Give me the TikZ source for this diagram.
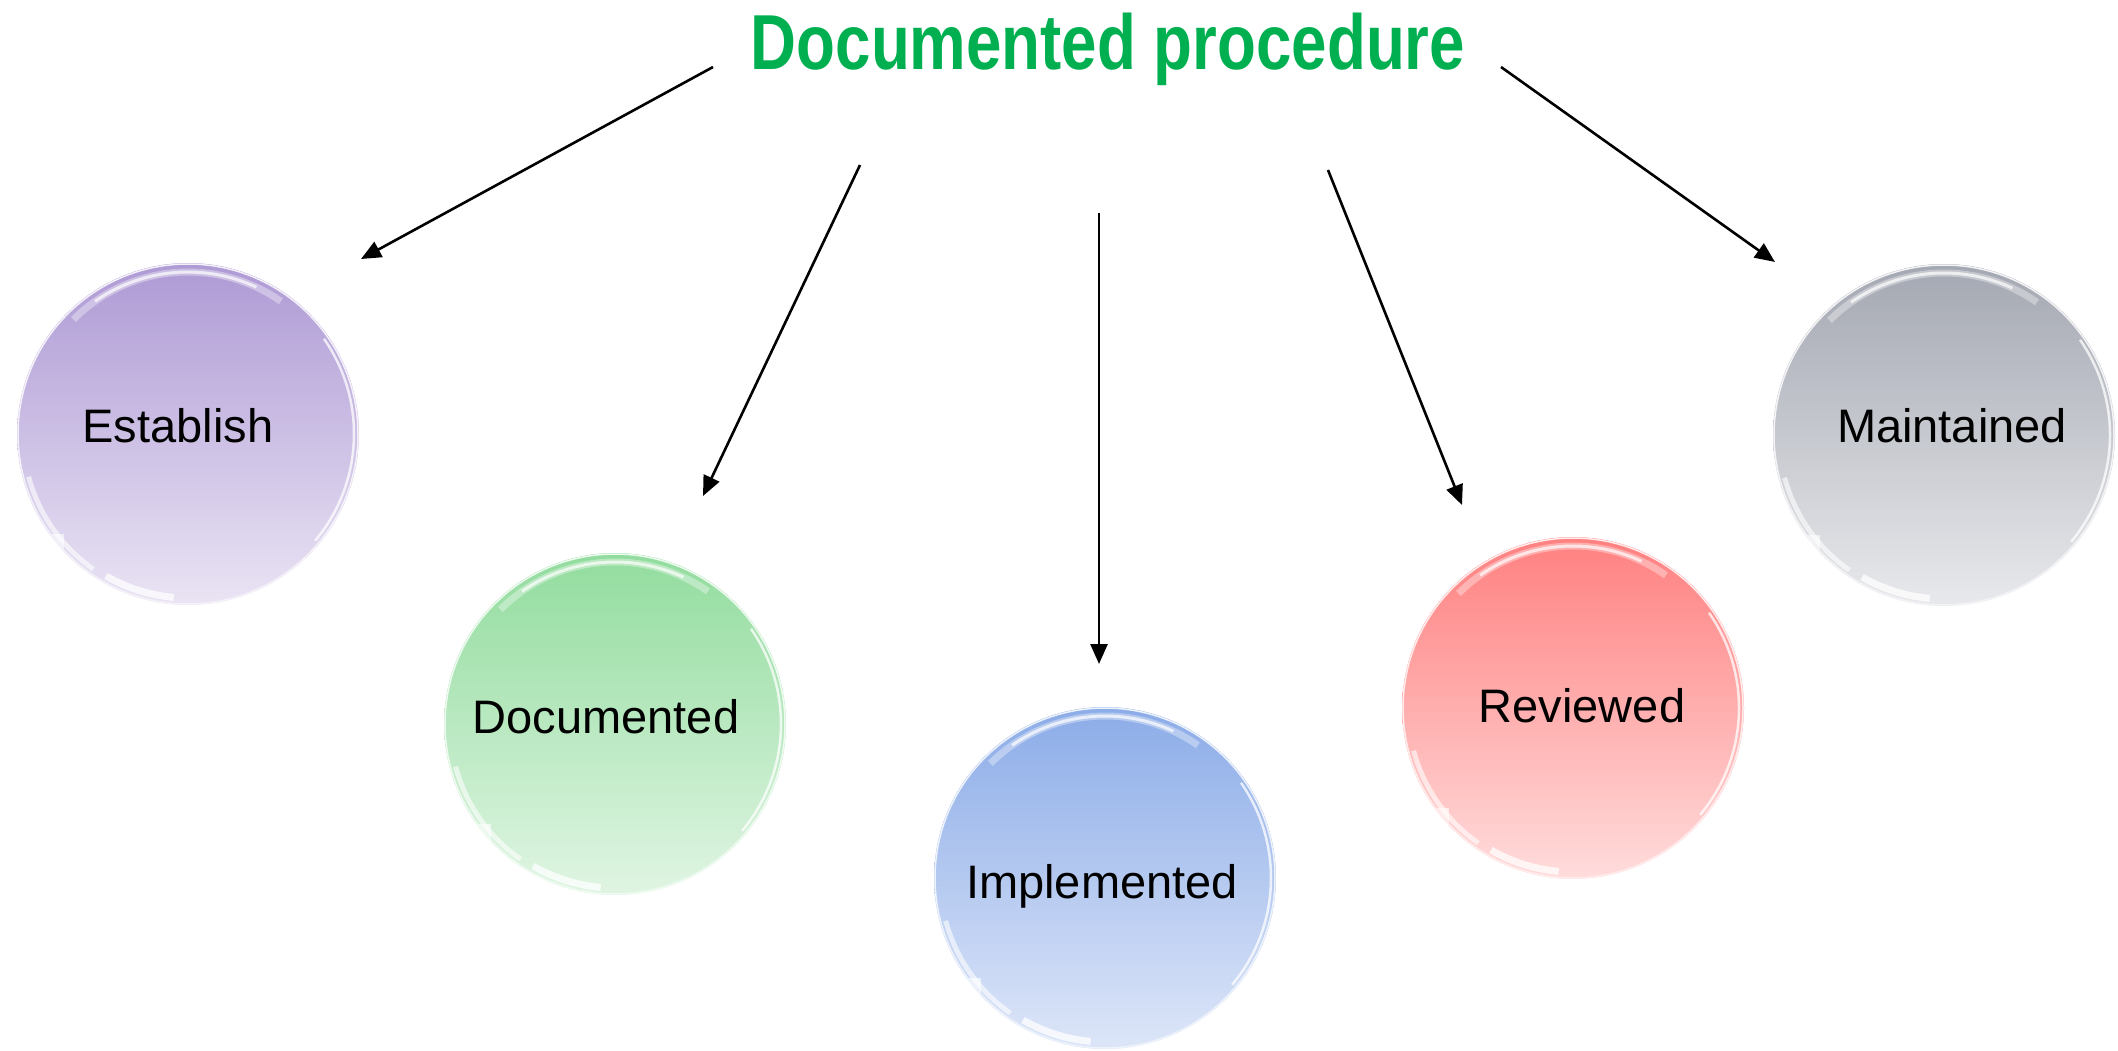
\documentclass[tikz,border=0pt]{standalone}
\usepackage{fontspec}
\setmainfont{Liberation Sans}
\usetikzlibrary{arrows.meta,calc}

\definecolor{titlegreen}{RGB}{0,176,80}
\definecolor{purpleTop}{RGB}{174,154,213}
\definecolor{purpleBot}{RGB}{234,228,244}
\definecolor{greenTop}{RGB}{146,220,158}
\definecolor{greenBot}{RGB}{224,245,227}
\definecolor{blueTop}{RGB}{140,172,232}
\definecolor{blueBot}{RGB}{221,230,248}
\definecolor{redTop}{RGB}{255,128,128}
\definecolor{redBot}{RGB}{255,220,220}
\definecolor{grayTop}{RGB}{164,168,178}
\definecolor{grayBot}{RGB}{232,233,236}

\tikzset{
  ball/.style={circle, minimum size=342pt, inner sep=0pt, draw=none},
  balltext/.style={anchor=base, font=\fontsize{47}{47}\selectfont, text=black},
  connector/.style={draw=black, line width=2.6pt,
    -{Triangle[length=20pt,width=17pt]}},
  gloss/.style={draw=white, line cap=butt},
}

% glossy ball: name, x, y, top colour, bottom colour
\newcommand\glossball[5]{%
  \node[ball, top color=#4, bottom color=#5] (#1) at (#2,#3) {};
  \begin{scope}
    \clip (#1.center) circle (171);
    \fill[white, opacity=.6] ($(#1.center)+(-171,100)$) rectangle ($(#1.center)+(-124,171)$);
  \end{scope}
  \draw[#5!50!white, line width=1.5pt] (#1.center) circle (170);
  % soft highlight along the upper rim
  \draw[gloss, line width=7pt, opacity=.35] ($(#1.center)+(-55:162)$) arc[start angle=-55, end angle=-135, radius=162];
  \draw[gloss, line width=3pt, opacity=.7] ($(#1.center)+(-65:162)$) arc[start angle=-65, end angle=-125, radius=162];
  % bright crescent on the lower left
  \draw[gloss, line width=5pt, opacity=.6] ($(#1.center)+(-195:165)$) arc[start angle=-195, end angle=-235, radius=165];
  \draw[gloss, line width=7pt, opacity=.75] ($(#1.center)+(-240:164)$) arc[start angle=-240, end angle=-265, radius=164];
  % thin reflection on the right
  \draw[gloss, line width=2.5pt, opacity=.75] ($(#1.center)+(40:166)$) arc[start angle=40, end angle=-35, radius=166];
}

\begin{document}
\begin{tikzpicture}[x=1pt, y=-1pt]
  \useasboundingbox (0,0) rectangle (2118,1050);

  % title
  \node[anchor=base, text=titlegreen, inner sep=0pt] (title) at (1108,69)
    {\scalebox{0.816}[1]{\fontsize{78}{78}\selectfont\bfseries Documented procedure}};

  % the five stages
  \glossball{establish}{188}{434}{purpleTop}{purpleBot}
  \glossball{documented}{615}{724}{greenTop}{greenBot}
  \glossball{implemented}{1105}{878}{blueTop}{blueBot}
  \glossball{reviewed}{1573}{708}{redTop}{redBot}
  \glossball{maintained}{1944}{435}{grayTop}{grayBot}

  \node[balltext] (establishT)   at (178,442)  {Establish};
  \node[balltext] (documentedT)  at (606,733)  {Documented};
  \node[balltext] (implementedT) at (1102,898) {Implemented};
  \node[balltext] (reviewedT)    at (1582,722) {Reviewed};
  \node[balltext] (maintainedT)  at (1952,442) {Maintained};

  % connector ends
  \coordinate (s1) at (713,67);   \coordinate (e1) at (361,259);
  \coordinate (s2) at (860,165);  \coordinate (e2) at (703,496);
  \coordinate (s3) at (1099,213); \coordinate (e3) at (1099,664);
  \coordinate (s4) at (1328,170); \coordinate (e4) at (1462,505);
  \coordinate (s5) at (1501,67);  \coordinate (e5) at (1775,262);

  \draw[connector] (s1) -- (e1);
  \draw[connector] (s2) -- (e2);
  \draw[connector] (s3) -- (e3);
  \draw[connector] (s4) -- (e4);
  \draw[connector] (s5) -- (e5);
\end{tikzpicture}
\end{document}
